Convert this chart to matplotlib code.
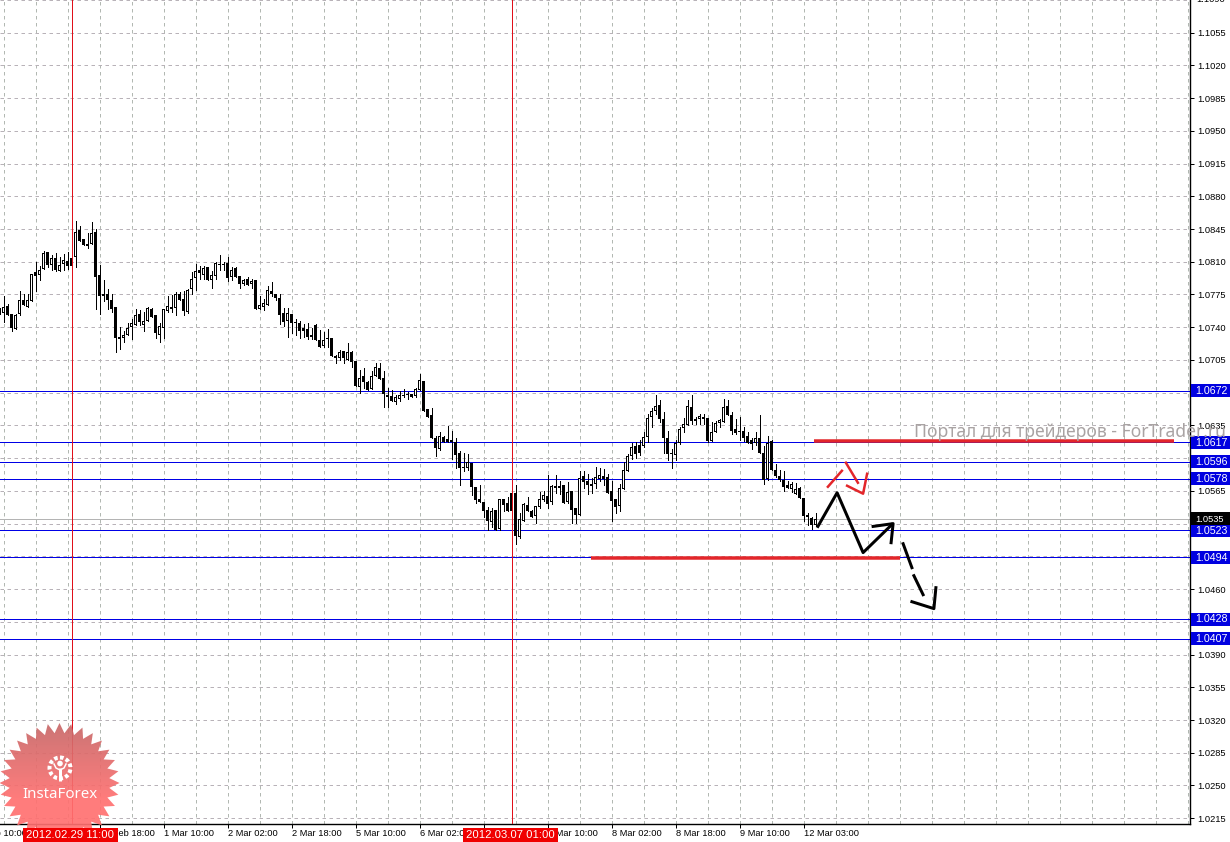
import numpy as np
import matplotlib
matplotlib.use('Agg')
import matplotlib.pyplot as plt
from matplotlib.patches import Rectangle, Polygon, Circle

plt.rcParams['font.family'] = ['Liberation Sans', 'DejaVu Sans']

# hourly bars, first bar is index -1
high = [1.0761, 1.0773, 1.0765, 1.0754, 1.0754, 1.0779, 1.0776, 1.0776, 1.0797, 1.0810, 1.0806, 1.0822, 1.0820, 1.0817, 1.0819, 1.0815, 1.0818, 1.0820, 1.0814, 1.0854, 1.0848, 1.0834, 1.0841, 1.0853, 1.0845, 1.0807, 1.0790, 1.0781, 1.0776, 1.0762, 1.0740, 1.0736, 1.0745, 1.0749, 1.0759, 1.0758, 1.0756, 1.0762, 1.0761, 1.0753, 1.0745, 1.0760, 1.0773, 1.0774, 1.0778, 1.0778, 1.0779, 1.0781, 1.0799, 1.0808, 1.0806, 1.0806, 1.0804, 1.0800, 1.0810, 1.0817, 1.0810, 1.0815, 1.0804, 1.0804, 1.0795, 1.0792, 1.0794, 1.0792, 1.0790, 1.0773, 1.0770, 1.0784, 1.0788, 1.0776, 1.0776, 1.0761, 1.0761, 1.0754, 1.0749, 1.0747,
        1.0743, 1.0744, 1.0739, 1.0743, 1.0737, 1.0735, 1.0738, 1.0728, 1.0710, 1.0716, 1.0715, 1.0723, 1.0715, 1.0704, 1.0694, 1.0696, 1.0683, 1.0693, 1.0702, 1.0702, 1.0693, 1.0675, 1.0673, 1.0667, 1.0672, 1.0674, 1.0671, 1.0669, 1.0675, 1.0690, 1.0683, 1.0653, 1.0654, 1.0624, 1.0628, 1.0624, 1.0634, 1.0629, 1.0622, 1.0608, 1.0606, 1.0604, 1.0595, 1.0569, 1.0571, 1.0553, 1.0548, 1.0547, 1.0545, 1.0556, 1.0556, 1.0558, 1.0563, 1.0571, 1.0541, 1.0552, 1.0558, 1.0545, 1.0549, 1.0564, 1.0565, 1.0582, 1.0571,
        1.0582, 1.0576, 1.0571, 1.0574, 1.0565, 1.0547, 1.0586, 1.0586, 1.0583, 1.0579, 1.0591, 1.0590, 1.0588, 1.0583, 1.0576, 1.0556, 1.0572, 1.0596, 1.0604, 1.0616, 1.0617, 1.0619, 1.0628, 1.0647, 1.0654, 1.0667, 1.0662, 1.0649, 1.0629, 1.0610, 1.0619, 1.0633, 1.0643, 1.0662, 1.0667, 1.0644, 1.0647, 1.0647, 1.0643, 1.0639, 1.0640, 1.0642, 1.0663, 1.0662, 1.0649, 1.0642, 1.0644, 1.0633, 1.0628, 1.0622, 1.0628, 1.0646, 1.0613, 1.0624, 1.0619, 1.0594, 1.0587, 1.0586, 1.0576, 1.0574, 1.0573, 1.0569, 1.0557, 1.0541, 1.0537, 1.0541]
low = [1.0754, 1.0746, 1.0753, 1.0736, 1.0738, 1.0753, 1.0764, 1.0762, 1.0768, 1.0779, 1.0791, 1.0802, 1.0804, 1.0801, 1.0800, 1.0800, 1.0801, 1.0802, 1.0804, 1.0804, 1.0832, 1.0828, 1.0825, 1.0829, 1.0759, 1.0754, 1.0768, 1.0759, 1.0756, 1.0714, 1.0717, 1.0724, 1.0732, 1.0727, 1.0742, 1.0742, 1.0736, 1.0747, 1.0751, 1.0729, 1.0724, 1.0728, 1.0756, 1.0756, 1.0753, 1.0769, 1.0753, 1.0755, 1.0776, 1.0780, 1.0792, 1.0792, 1.0791, 1.0782, 1.0792, 1.0801, 1.0801, 1.0789, 1.0790, 1.0794, 1.0782, 1.0785, 1.0785, 1.0782, 1.0759, 1.0759, 1.0758, 1.0764, 1.0773, 1.0769, 1.0743, 1.0741, 1.0730, 1.0734, 1.0732, 1.0728,
       1.0730, 1.0727, 1.0727, 1.0726, 1.0719, 1.0719, 1.0719, 1.0709, 1.0702, 1.0705, 1.0702, 1.0705, 1.0698, 1.0677, 1.0670, 1.0675, 1.0673, 1.0674, 1.0688, 1.0685, 1.0655, 1.0655, 1.0661, 1.0658, 1.0661, 1.0665, 1.0663, 1.0665, 1.0665, 1.0673, 1.0650, 1.0644, 1.0622, 1.0602, 1.0609, 1.0617, 1.0617, 1.0599, 1.0590, 1.0571, 1.0586, 1.0587, 1.0561, 1.0552, 1.0553, 1.0537, 1.0523, 1.0526, 1.0523, 1.0523, 1.0544, 1.0543, 1.0543, 1.0508, 1.0515, 1.0533, 1.0544, 1.0537, 1.0531, 1.0547, 1.0554, 1.0547, 1.0551,
       1.0563, 1.0562, 1.0552, 1.0552, 1.0531, 1.0531, 1.0539, 1.0568, 1.0562, 1.0563, 1.0568, 1.0576, 1.0571, 1.0563, 1.0533, 1.0541, 1.0543, 1.0567, 1.0586, 1.0599, 1.0600, 1.0603, 1.0612, 1.0617, 1.0633, 1.0647, 1.0639, 1.0606, 1.0598, 1.0589, 1.0598, 1.0615, 1.0628, 1.0635, 1.0637, 1.0637, 1.0637, 1.0637, 1.0617, 1.0618, 1.0628, 1.0633, 1.0639, 1.0646, 1.0626, 1.0626, 1.0619, 1.0618, 1.0616, 1.0610, 1.0614, 1.0605, 1.0572, 1.0577, 1.0587, 1.0580, 1.0576, 1.0565, 1.0568, 1.0564, 1.0562, 1.0557, 1.0533, 1.0528, 1.0524, 1.0527]
open_ = [1.0757, 1.0755, 1.0763, 1.0754, 1.0738, 1.0754, 1.0769, 1.0762, 1.0768, 1.0799, 1.0796, 1.0802, 1.0820, 1.0807, 1.0814, 1.0800, 1.0808, 1.0811, 1.0814, 1.0815, 1.0844, 1.0834, 1.0829, 1.0829, 1.0842, 1.0796, 1.0775, 1.0775, 1.0769, 1.0762, 1.0727, 1.0728, 1.0732, 1.0740, 1.0742, 1.0754, 1.0742, 1.0747, 1.0760, 1.0753, 1.0732, 1.0739, 1.0757, 1.0762, 1.0761, 1.0775, 1.0770, 1.0756, 1.0781, 1.0793, 1.0801, 1.0796, 1.0804, 1.0791, 1.0795, 1.0808, 1.0808, 1.0809, 1.0794, 1.0803, 1.0795, 1.0786, 1.0792, 1.0786, 1.0790, 1.0760, 1.0762, 1.0764, 1.0779, 1.0776, 1.0771, 1.0755, 1.0747, 1.0754, 1.0745, 1.0744,
         1.0739, 1.0738, 1.0732, 1.0742, 1.0726, 1.0720, 1.0727, 1.0728, 1.0709, 1.0707, 1.0715, 1.0705, 1.0714, 1.0704, 1.0676, 1.0688, 1.0681, 1.0674, 1.0688, 1.0696, 1.0686, 1.0668, 1.0666, 1.0660, 1.0663, 1.0666, 1.0667, 1.0669, 1.0666, 1.0673, 1.0683, 1.0653, 1.0646, 1.0622, 1.0610, 1.0623, 1.0620, 1.0617, 1.0617, 1.0605, 1.0591, 1.0589, 1.0595, 1.0569, 1.0556, 1.0553, 1.0545, 1.0532, 1.0545, 1.0524, 1.0556, 1.0552, 1.0563, 1.0563, 1.0516, 1.0533, 1.0550, 1.0544, 1.0538, 1.0548, 1.0555, 1.0560, 1.0553,
         1.0568, 1.0570, 1.0571, 1.0553, 1.0565, 1.0547, 1.0539, 1.0581, 1.0576, 1.0572, 1.0572, 1.0578, 1.0581, 1.0580, 1.0565, 1.0556, 1.0549, 1.0567, 1.0586, 1.0602, 1.0613, 1.0614, 1.0613, 1.0623, 1.0644, 1.0650, 1.0657, 1.0642, 1.0622, 1.0606, 1.0603, 1.0616, 1.0632, 1.0635, 1.0655, 1.0642, 1.0642, 1.0642, 1.0643, 1.0618, 1.0628, 1.0638, 1.0639, 1.0656, 1.0646, 1.0631, 1.0629, 1.0629, 1.0624, 1.0619, 1.0616, 1.0622, 1.0605, 1.0578, 1.0618, 1.0587, 1.0581, 1.0577, 1.0571, 1.0567, 1.0562, 1.0568, 1.0557, 1.0539, 1.0536, 1.0529]
close = [1.0759, 1.0762, 1.0753, 1.0739, 1.0753, 1.0769, 1.0764, 1.0769, 1.0797, 1.0795, 1.0801, 1.0819, 1.0807, 1.0814, 1.0801, 1.0807, 1.0812, 1.0805, 1.0806, 1.0842, 1.0832, 1.0828, 1.0827, 1.0841, 1.0794, 1.0773, 1.0773, 1.0769, 1.0760, 1.0728, 1.0730, 1.0732, 1.0739, 1.0744, 1.0753, 1.0746, 1.0747, 1.0761, 1.0751, 1.0734, 1.0741, 1.0759, 1.0763, 1.0760, 1.0776, 1.0769, 1.0757, 1.0780, 1.0792, 1.0800, 1.0798, 1.0803, 1.0791, 1.0796, 1.0809, 1.0807, 1.0807, 1.0793, 1.0801, 1.0794, 1.0786, 1.0791, 1.0785, 1.0789, 1.0759, 1.0764, 1.0766, 1.0780, 1.0776, 1.0771, 1.0753, 1.0746, 1.0755, 1.0744, 1.0744, 1.0736,
         1.0736, 1.0730, 1.0730, 1.0726, 1.0719, 1.0726, 1.0729, 1.0709, 1.0707, 1.0714, 1.0707, 1.0713, 1.0703, 1.0677, 1.0686, 1.0681, 1.0673, 1.0688, 1.0697, 1.0685, 1.0669, 1.0665, 1.0661, 1.0665, 1.0668, 1.0667, 1.0668, 1.0665, 1.0674, 1.0684, 1.0650, 1.0644, 1.0622, 1.0611, 1.0624, 1.0617, 1.0617, 1.0619, 1.0603, 1.0590, 1.0589, 1.0596, 1.0569, 1.0555, 1.0553, 1.0543, 1.0533, 1.0544, 1.0523, 1.0556, 1.0550, 1.0544, 1.0543, 1.0517, 1.0535, 1.0551, 1.0544, 1.0537, 1.0549, 1.0556, 1.0561, 1.0551, 1.0570,
         1.0570, 1.0568, 1.0552, 1.0564, 1.0545, 1.0539, 1.0579, 1.0575, 1.0571, 1.0570, 1.0580, 1.0582, 1.0578, 1.0563, 1.0554, 1.0548, 1.0568, 1.0587, 1.0602, 1.0612, 1.0604, 1.0606, 1.0623, 1.0643, 1.0650, 1.0656, 1.0642, 1.0622, 1.0604, 1.0604, 1.0616, 1.0631, 1.0637, 1.0656, 1.0640, 1.0640, 1.0645, 1.0644, 1.0618, 1.0628, 1.0638, 1.0641, 1.0655, 1.0646, 1.0629, 1.0627, 1.0628, 1.0622, 1.0616, 1.0615, 1.0622, 1.0605, 1.0577, 1.0616, 1.0587, 1.0581, 1.0577, 1.0569, 1.0568, 1.0572, 1.0567, 1.0557, 1.0538, 1.0537, 1.0529, 1.0535]

# levels and axis labels
blue_levels = [1.0672, 1.0617, 1.0596, 1.0578, 1.0523, 1.0494, 1.0428, 1.0407]
bid_price = 1.0535
cursor_bars = [17, 127]
cursor_labels = ['2012.02.29 11:00', '2012.03.07 01:00']
price_ticks = [1.0215 + 0.0035 * i for i in range(26)]
date_tick_bars = [-8, 8, 24, 40, 56, 72, 88, 104, 120, 136, 152, 168, 184, 200]
date_tick_labels = ['28 Feb 10:00', '29 Feb 02:00', '29 Feb 18:00', '1 Mar 10:00', '2 Mar 02:00', '2 Mar 18:00',
                    '5 Mar 10:00', '6 Mar 02:00', '6 Mar 18:00', '7 Mar 10:00', '8 Mar 02:00', '8 Mar 18:00',
                    '9 Mar 10:00', '12 Mar 03:00']

# hand drawn marks (bar index, price)
red_lines = [([202.6, 292.6], [1.0618, 1.0618]), ([146.9, 224.1], [1.0493, 1.0493])]
black_path = ([203.6, 208.4, 214.9, 222.1], [1.0527, 1.0563, 1.0499, 1.0529])
black_head = ([217.4, 222.4, 221.9], [1.0527, 1.0530, 1.05096])
black_dashes = [([224.9, 227.1], [1.05085, 1.04829]), ([227.6, 229.9], [1.04743, 1.0454])]
black_dash_head = ([227.1, 232.6, 233.1], [1.04465, 1.04391, 1.04615])
red_dashes = [([206.1, 209.6], [1.05694, 1.05865]), ([210.6, 213.6], [1.05951, 1.05737])]
red_head = ([210.9, 214.9, 215.9], [1.05705, 1.0562, 1.05833])

px = 0.72  # one pixel in points at dpi 100
y_px = 0.000107  # one pixel in price

fig = plt.figure(figsize=(12.30, 8.42), dpi=100)
ax = fig.add_axes([0, 18 / 842, 1189.5 / 1230, 824 / 842])
ax.set_xlim(-0.875, 296.5)
ax.set_ylim(1.02088, 1.10899)

bars = np.arange(-1, len(high) - 1)
high, low, open_, close = np.array(high), np.array(low), np.array(open_), np.array(close)
up = close >= open_
body_low = np.minimum(open_, close)
body_h = np.maximum(np.abs(close - open_), y_px)

# grid, the bars are drawn over it
for k in np.arange(0, 300, 8):
    ax.axvline(k, color='#b2b8b2', lw=px, ls=(0, (3.5, 3.5)), zorder=1)
for p in price_ticks:
    ax.axhline(p, color='#b8b2b8', lw=px, ls=(0, (3.5, 3.5)), zorder=1)

ax.axhline(bid_price, color='#b4b4b4', lw=px, zorder=1.5, antialiased=False)
for level in blue_levels:
    ax.axhline(level, color='#0000e6', lw=px, zorder=2, antialiased=False)

# wicks, then 3 px bodies, up bars get a 1 px white inside
ax.vlines(bars, low, high, color='black', lw=px, zorder=3, antialiased=False)
ax.bar(bars, body_h, bottom=body_low, width=0.75, color='black', linewidth=0, zorder=4, antialiased=False)
inner = up & (body_h > 2.5 * y_px)
ax.bar(bars[inner], body_h[inner] - 2 * y_px, bottom=body_low[inner] + y_px, width=0.25, color='white',
       linewidth=0, zorder=4.5, antialiased=False)

for k in cursor_bars:
    ax.axvline(k, color='#e0101a', lw=px, zorder=5, antialiased=False)

# the sketch on top of the chart
for xs, ys in red_lines:
    ax.plot(xs, ys, color='#e3262a', lw=3.5 * px, zorder=6, solid_capstyle='butt')
ax.plot(*black_path, color='black', lw=3 * px, zorder=6)
ax.plot(*black_head, color='black', lw=3 * px, zorder=6)
for xs, ys in black_dashes:
    ax.plot(xs, ys, color='black', lw=3 * px, zorder=6)
ax.plot(*black_dash_head, color='black', lw=3 * px, zorder=6)
for xs, ys in red_dashes:
    ax.plot(xs, ys, color='#e3262a', lw=2.5 * px, zorder=6)
ax.plot(*red_head, color='#e3262a', lw=2.5 * px, zorder=6)

# axes frame
for side in ['left', 'top']:
    ax.spines[side].set_visible(False)
for side in ['right', 'bottom']:
    ax.spines[side].set_linewidth(1.4 * px)

ax.yaxis.tick_right()
ax.set_yticks(price_ticks[:-1])
ax.set_yticklabels(['{:.4f}'.format(p) for p in price_ticks[:-1]])
ax.tick_params(axis='y', length=3, width=px, pad=2.5, labelsize=6.7)
ax.text(1.0055, price_ticks[-1], '{:.4f}'.format(price_ticks[-1]), transform=ax.get_yaxis_transform(),
        fontsize=6.7, va='center', clip_on=False)

ax.set_xticks([k for k in date_tick_bars if k > 0])
ax.set_xticklabels([])
ax.tick_params(axis='x', length=3, width=px)
for k, label in zip(date_tick_bars, date_tick_labels):
    ax.text(k, -0.0113, label, transform=ax.get_xaxis_transform(), fontsize=6.7, ha='left', va='center',
            clip_on=False)

# price boxes on the right
box_h = 13 * y_px
for level in blue_levels + [bid_price]:
    colour = 'black' if level == bid_price else '#0000e0'
    ax.add_patch(Rectangle((1.001, level - box_h / 2), 0.0345, box_h, transform=ax.get_yaxis_transform(),
                           facecolor=colour, edgecolor='none', clip_on=False, zorder=7))
    ax.text(1.0046, level - 0.00005, '{:.4f}'.format(level), transform=ax.get_yaxis_transform(), color='white',
            fontsize=7.7 if level != bid_price else 6.7, va='center', clip_on=False, zorder=8)

# pixel overlay for the watermark, logo and the cursor time boxes
ov = fig.add_axes([0, 0, 1, 1], zorder=5)
ov.patch.set_alpha(0)
ov.axis('off')

ov.text(914, 432, 'Портал для трейдеров - ForTrader.ru', color='#a9a3a3', fontsize=12.6, va='center',
        family=['Noto Sans', 'DejaVu Sans'])

# star shaped logo
n_spikes = 32
angles = np.linspace(0, 2 * np.pi, 2 * n_spikes, endpoint=False)
radii = np.where(np.arange(2 * n_spikes) % 2 == 0, 60, 50)
star = Polygon(np.c_[59.5 + radii * np.sin(angles), 783 - radii * np.cos(angles)], closed=True,
               facecolor='none', edgecolor='none')
ov.add_patch(star)
gradient = np.ones((120, 2, 4))
shade = np.clip(np.linspace(0, 1.6, 120), 0, 1)
gradient[:, :, 0] = ((199 + 56 * shade) / 255)[:, None]
gradient[:, :, 1] = ((105 + 7 * shade) / 255)[:, None]
gradient[:, :, 2] = ((105 + 7 * shade) / 255)[:, None]
gradient[:, :, 3] = 0.92
img = ov.imshow(gradient, extent=(-1, 120, 843, 723), aspect='auto', zorder=2)
img.set_clip_path(star)

ov.add_patch(Circle((60, 768), 10.5, facecolor='none', edgecolor='white', lw=4 * px, ls=(0, (0.9, 0.6)), zorder=3))
ov.add_patch(Circle((60, 763.5), 2.8, facecolor='white', edgecolor='none', zorder=3))
ov.plot([60, 60], [768, 781], color='white', lw=3 * px, zorder=3, solid_capstyle='butt')
ov.plot([54, 56, 60, 64, 66], [764, 768, 770, 768, 764], color='white', lw=1.5 * px, zorder=3)
ov.text(59.5, 795, 'InstaForex', color='white', fontsize=10.8, ha='center', va='center', zorder=3,
        family=['Noto Sans', 'DejaVu Sans'])

# red cursor time boxes
for k, label in zip(cursor_bars, cursor_labels):
    x_px = 3.5 + 4 * k
    ov.add_patch(Rectangle((x_px - 48.5, 828), 95, 14, facecolor='#f00000', edgecolor='none', zorder=4))
    ov.text(x_px - 1, 835, label, color='white', fontsize=8.1, ha='center', va='center', zorder=5)

ov.set_xlim(0, 1230)
ov.set_ylim(842, 0)

fig.savefig('out.png', dpi=100)
